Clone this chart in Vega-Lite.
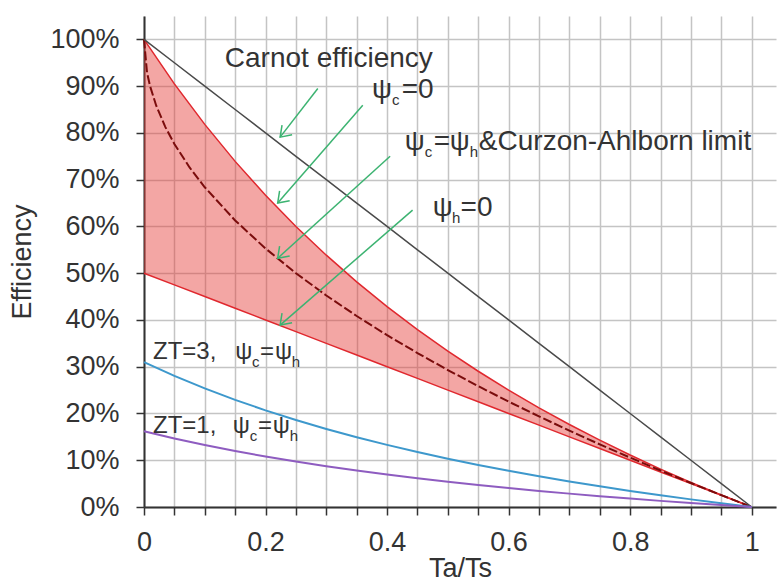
{
  "$schema": "https://vega.github.io/schema/vega-lite/v6.json",
  "width": 632,
  "height": 491,
  "autosize": "none",
  "padding": {"left": 144, "top": 16, "right": 2, "bottom": 76},
  "background": "white",
  "config": {
    "view": {"stroke": null},
    "font": "Liberation Sans",
    "axis": {
      "domainColor": "#333333",
      "domainWidth": 2,
      "tickColor": "#333333",
      "tickWidth": 1.5,
      "tickSize": 8,
      "gridColor": "#c4c4c4",
      "gridWidth": 1.5,
      "labelColor": "#333333",
      "labelFont": "Liberation Sans",
      "labelFontSize": 27,
      "labelOverlap": false,
      "labelFlush": false,
      "titleColor": "#333333",
      "titleFont": "Liberation Sans",
      "titleFontSize": 27,
      "titleFontWeight": "normal"
    }
  },
  "datasets": {
    "curves": [
      {"x": 0, "carnot": 1, "upper": 1, "lower": 0.5, "zt3": 0.31, "zt1": 0.162},
      {"x": 0.05, "carnot": 0.95, "upper": 0.9048, "lower": 0.475, "zt3": 0.2805, "zt1": 0.1466},
      {"x": 0.1, "carnot": 0.9, "upper": 0.8182, "lower": 0.45, "zt3": 0.2536, "zt1": 0.1325},
      {"x": 0.15, "carnot": 0.85, "upper": 0.7391, "lower": 0.425, "zt3": 0.2291, "zt1": 0.1197},
      {"x": 0.2, "carnot": 0.8, "upper": 0.6667, "lower": 0.4, "zt3": 0.2067, "zt1": 0.108},
      {"x": 0.25, "carnot": 0.75, "upper": 0.6, "lower": 0.375, "zt3": 0.186, "zt1": 0.0972},
      {"x": 0.3, "carnot": 0.7, "upper": 0.5385, "lower": 0.35, "zt3": 0.1669, "zt1": 0.0872},
      {"x": 0.35, "carnot": 0.65, "upper": 0.4815, "lower": 0.325, "zt3": 0.1493, "zt1": 0.078},
      {"x": 0.4, "carnot": 0.6, "upper": 0.4286, "lower": 0.3, "zt3": 0.1329, "zt1": 0.0694},
      {"x": 0.45, "carnot": 0.55, "upper": 0.3793, "lower": 0.275, "zt3": 0.1176, "zt1": 0.0614},
      {"x": 0.5, "carnot": 0.5, "upper": 0.3333, "lower": 0.25, "zt3": 0.1033, "zt1": 0.054},
      {"x": 0.55, "carnot": 0.45, "upper": 0.2903, "lower": 0.225, "zt3": 0.09, "zt1": 0.047},
      {"x": 0.6, "carnot": 0.4, "upper": 0.25, "lower": 0.2, "zt3": 0.0775, "zt1": 0.0405},
      {"x": 0.65, "carnot": 0.35, "upper": 0.2121, "lower": 0.175, "zt3": 0.0658, "zt1": 0.0344},
      {"x": 0.7, "carnot": 0.3, "upper": 0.1765, "lower": 0.15, "zt3": 0.0547, "zt1": 0.0286},
      {"x": 0.75, "carnot": 0.25, "upper": 0.1429, "lower": 0.125, "zt3": 0.0443, "zt1": 0.0231},
      {"x": 0.8, "carnot": 0.2, "upper": 0.1111, "lower": 0.1, "zt3": 0.0344, "zt1": 0.018},
      {"x": 0.85, "carnot": 0.15, "upper": 0.0811, "lower": 0.075, "zt3": 0.0251, "zt1": 0.0131},
      {"x": 0.9, "carnot": 0.1, "upper": 0.0526, "lower": 0.05, "zt3": 0.0163, "zt1": 0.0085},
      {"x": 0.95, "carnot": 0.05, "upper": 0.0256, "lower": 0.025, "zt3": 0.0079, "zt1": 0.0042},
      {"x": 1, "carnot": 0, "upper": 0, "lower": 0, "zt3": 0, "zt1": 0}
    ],
    "ca": [
      {"x": 0, "y": 1}, {"x": 0.005, "y": 0.929}, {"x": 0.01, "y": 0.9}, {"x": 0.02, "y": 0.8586},
      {"x": 0.035, "y": 0.8129}, {"x": 0.05, "y": 0.7764}, {"x": 0.075, "y": 0.7261}, {"x": 0.1, "y": 0.6838},
      {"x": 0.15, "y": 0.6127}, {"x": 0.2, "y": 0.5528}, {"x": 0.25, "y": 0.5}, {"x": 0.3, "y": 0.4523},
      {"x": 0.35, "y": 0.4084}, {"x": 0.4, "y": 0.3675}, {"x": 0.45, "y": 0.3292}, {"x": 0.5, "y": 0.2929},
      {"x": 0.55, "y": 0.2584}, {"x": 0.6, "y": 0.2254}, {"x": 0.65, "y": 0.1938}, {"x": 0.7, "y": 0.1633},
      {"x": 0.75, "y": 0.134}, {"x": 0.8, "y": 0.1056}, {"x": 0.85, "y": 0.078}, {"x": 0.9, "y": 0.0513},
      {"x": 0.95, "y": 0.0253}, {"x": 1, "y": 0}
    ],
    "arrows": [
      {"x": 0.224, "y": 0.791, "x2": 0.286, "y2": 0.895},
      {"x": 0.22, "y": 0.65, "x2": 0.36, "y2": 0.859},
      {"x": 0.22, "y": 0.532, "x2": 0.405, "y2": 0.75},
      {"x": 0.224, "y": 0.389, "x2": 0.442, "y2": 0.635}
    ],
    "labels": [
      {"x": 0.133, "y": 0.959, "t": "Carnot efficiency"},
      {"x": 0.375, "y": 0.891, "t": "ψ"},
      {"x": 0.424, "y": 0.891, "t": "=0"},
      {"x": 0.429, "y": 0.78, "t": "ψ"},
      {"x": 0.477, "y": 0.78, "t": "="},
      {"x": 0.503, "y": 0.78, "t": "ψ"},
      {"x": 0.551, "y": 0.78, "t": "&Curzon-Ahlborn limit"},
      {"x": 0.475, "y": 0.639, "t": "ψ"},
      {"x": 0.521, "y": 0.639, "t": "=0"}
    ],
    "ztlabels": [
      {"x": 0.0148, "y": 0.331, "t": "ZT=3,"},
      {"x": 0.15, "y": 0.331, "t": "ψ"},
      {"x": 0.191, "y": 0.331, "t": "="},
      {"x": 0.2155, "y": 0.331, "t": "ψ"},
      {"x": 0.0148, "y": 0.173, "t": "ZT=1,"},
      {"x": 0.146, "y": 0.173, "t": "ψ"},
      {"x": 0.1875, "y": 0.173, "t": "="},
      {"x": 0.212, "y": 0.173, "t": "ψ"}
    ],
    "subs": [
      {"x": 0.408, "y": 0.891, "t": "c"},
      {"x": 0.462, "y": 0.78, "t": "c"},
      {"x": 0.536, "y": 0.78, "t": "h"},
      {"x": 0.507, "y": 0.639, "t": "h"},
      {"x": 0.1776, "y": 0.331, "t": "c"},
      {"x": 0.243, "y": 0.331, "t": "h"},
      {"x": 0.174, "y": 0.173, "t": "c"},
      {"x": 0.24, "y": 0.173, "t": "h"}
    ]
  },
  "encoding": {
    "x": {
      "field": "x",
      "type": "quantitative",
      "scale": {"domain": [0, 1.04], "nice": false, "zero": false},
      "axis": {
        "title": "Ta/Ts",
        "values": [0, 0.05, 0.1, 0.15, 0.2, 0.25, 0.3, 0.35, 0.4, 0.45, 0.5, 0.55, 0.6, 0.65, 0.7, 0.75, 0.8, 0.85, 0.9, 0.95, 1],
        "labelExpr": "round(datum.value*100) % 20 == 0 ? format(datum.value, '~g') : ''",
        "labelPadding": 14,
        "titlePadding": 0
      }
    }
  },
  "layer": [
    {
      "data": {"name": "curves"},
      "mark": {"type": "area", "color": "#e53935", "opacity": 0.45},
      "encoding": {
        "y": {
          "field": "upper",
          "type": "quantitative",
          "scale": {"domain": [0, 1.05], "nice": false},
          "axis": {
            "title": "Efficiency",
            "values": [0, 0.05, 0.1, 0.15, 0.2, 0.25, 0.3, 0.35, 0.4, 0.45, 0.5, 0.55, 0.6, 0.65, 0.7, 0.75, 0.8, 0.85, 0.9, 0.95, 1, 1.05],
            "labelExpr": "(round(datum.value*100) % 10 == 0 && datum.value < 1.01) ? format(datum.value, '.0%') : ''",
            "labelPadding": 17,
            "titlePadding": 13
          }
        },
        "y2": {"field": "lower"}
      }
    },
    {
      "data": {"name": "curves"},
      "mark": {"type": "line", "color": "#e0282e", "strokeWidth": 1.5},
      "encoding": {"y": {"field": "upper", "type": "quantitative"}}
    },
    {
      "data": {"name": "curves"},
      "mark": {"type": "line", "color": "#e0282e", "strokeWidth": 1.5},
      "encoding": {"y": {"field": "lower", "type": "quantitative"}}
    },
    {
      "data": {"name": "ca"},
      "mark": {"type": "line", "color": "#7a0c0c", "strokeWidth": 2, "strokeDash": [9, 3]},
      "encoding": {"y": {"field": "y", "type": "quantitative"}}
    },
    {
      "data": {"name": "curves"},
      "mark": {"type": "line", "color": "#4a4a4a", "strokeWidth": 1.5},
      "encoding": {"y": {"field": "carnot", "type": "quantitative"}}
    },
    {
      "data": {"name": "curves"},
      "mark": {"type": "line", "color": "#3d98cc", "strokeWidth": 2},
      "encoding": {"y": {"field": "zt3", "type": "quantitative"}}
    },
    {
      "data": {"name": "curves"},
      "mark": {"type": "line", "color": "#8e5cc0", "strokeWidth": 2},
      "encoding": {"y": {"field": "zt1", "type": "quantitative"}}
    },
    {
      "data": {"name": "arrows"},
      "mark": {"type": "rule", "color": "#3cb371", "strokeWidth": 1.5},
      "encoding": {
        "y": {"field": "y", "type": "quantitative"},
        "x2": {"field": "x2"},
        "y2": {"field": "y2"}
      }
    },
    {
      "data": {"name": "arrows"},
      "mark": {"type": "point", "shape": "M-0.7,-1L0,0L0.7,-1", "filled": false, "stroke": "#3cb371", "strokeWidth": 1.5, "size": 400, "angle": 44, "opacity": 1},
      "encoding": {"y": {"field": "y", "type": "quantitative"}}
    },
    {
      "data": {"name": "labels"},
      "mark": {"type": "text", "align": "left", "baseline": "middle", "fontSize": 28, "color": "#333333", "font": "Liberation Sans"},
      "encoding": {
        "y": {"field": "y", "type": "quantitative"},
        "text": {"field": "t"}
      }
    },
    {
      "data": {"name": "ztlabels"},
      "mark": {"type": "text", "align": "left", "baseline": "middle", "fontSize": 24, "color": "#333333", "font": "Liberation Sans"},
      "encoding": {
        "y": {"field": "y", "type": "quantitative"},
        "text": {"field": "t"}
      }
    },
    {
      "data": {"name": "subs"},
      "mark": {"type": "text", "align": "left", "baseline": "middle", "fontSize": 15, "dy": 10, "color": "#333333", "font": "Liberation Sans"},
      "encoding": {
        "y": {"field": "y", "type": "quantitative"},
        "text": {"field": "t"}
      }
    }
  ]
}
